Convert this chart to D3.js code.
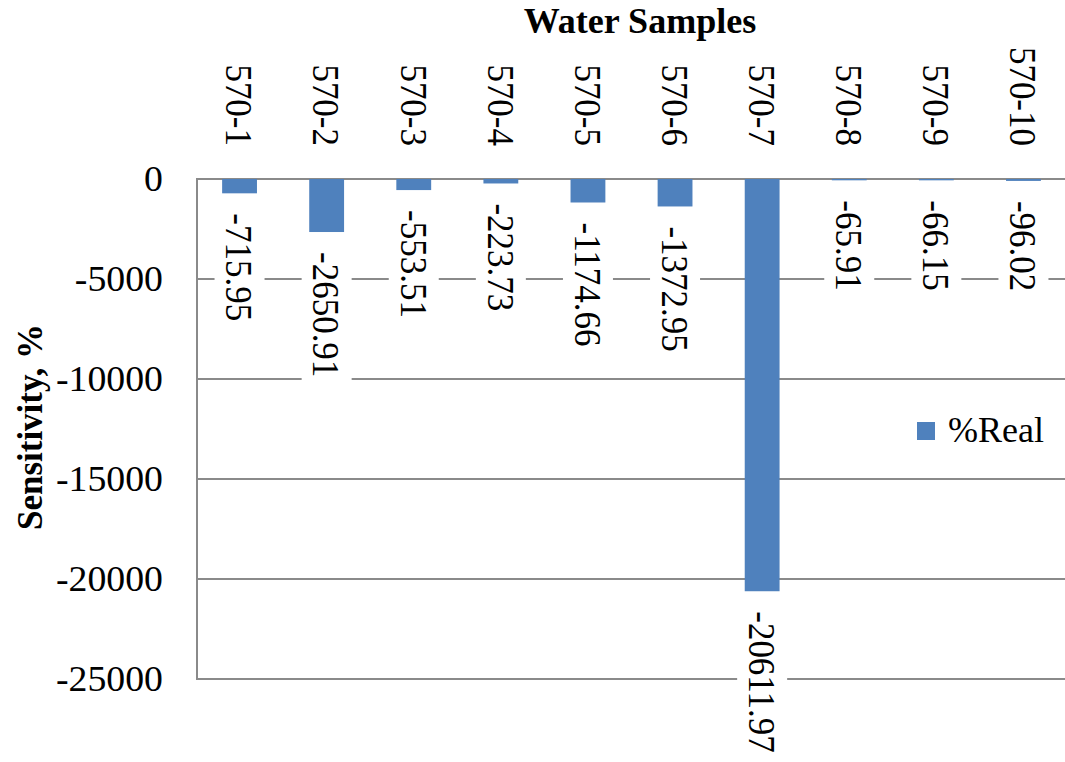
<!DOCTYPE html>
<html>
<head>
<meta charset="utf-8">
<script src="https://cdn.jsdelivr.net/npm/d3@7/dist/d3.min.js"></script>
<style>
  html, body { margin: 0; padding: 0; background: #ffffff; }
  svg { display: block; }
  text { font-family: "Liberation Serif", "Times New Roman", serif; fill: #000; }
</style>
</head>
<body>
<svg id="chart" width="1065" height="762"></svg>
<script>
// Sensitivity (%Real) per water sample
const categories = ["570-1", "570-2", "570-3", "570-4", "570-5", "570-6", "570-7", "570-8", "570-9", "570-10"];
const realValues = [-715.95, -2650.91, -553.51, -223.73, -1174.66, -1372.95, -20611.97, -65.91, -66.15, -96.02];
const yTicks = [0, -5000, -10000, -15000, -20000, -25000];
const seriesName = "%Real";
const xTitle = "Water Samples";
const yTitle = "Sensitivity, %";

const W = 1065, H = 762;
const plot = { left: 196, right: 1067, top: 179, bottom: 679 };
const barColor = "#4f81bd";
const gridColor = "#8a8a8a";
const fontSize = 35;
const stretch = 1.08;   // glyphs are drawn slightly wide

const svg = d3.select("#chart");

const x = d3.scaleBand()
  .domain(categories)
  .range([plot.left, plot.right])
  .paddingInner(0.6)
  .paddingOuter(0.3);

const y = d3.scaleLinear()
  .domain([0, -25000])
  .range([plot.top, plot.bottom]);

// horizontal gridlines (the zero line doubles as the category axis)
svg.append("g").selectAll("line")
  .data(yTicks)
  .join("line")
  .attr("x1", plot.left).attr("x2", W)
  .attr("y1", d => y(d)).attr("y2", d => y(d))
  .attr("stroke", gridColor)
  .attr("stroke-width", 2);

// value axis line
svg.append("line")
  .attr("x1", plot.left + 1).attr("x2", plot.left + 1)
  .attr("y1", plot.top).attr("y2", plot.bottom)
  .attr("stroke", gridColor)
  .attr("stroke-width", 2);

// value axis labels
const yAxis = d3.axisLeft(y)
  .tickValues(yTicks)
  .tickSize(0)
  .tickPadding(0)
  .tickFormat(d => String(d));
const yAxisG = svg.append("g")
  .attr("transform", `translate(${plot.left - 33},0)`)
  .call(yAxis);
yAxisG.select(".domain").remove();
yAxisG.selectAll("text")
  .attr("font-size", fontSize)
  .attr("font-family", "Liberation Serif, Times New Roman, serif")
  .attr("fill", "#000")
  .attr("dy", null)
  .attr("dominant-baseline", "central")
  .attr("x", 0)
  .attr("transform", d => `translate(0,${y(d)}) scale(${stretch},1) translate(0,${-y(d)})`);

// bars
const data = categories.map((c, i) => ({ cat: c, value: realValues[i] }));
svg.append("g").selectAll("rect")
  .data(data)
  .join("rect")
  .attr("x", d => x(d.cat))
  .attr("width", x.bandwidth())
  .attr("y", y(0))
  .attr("height", d => y(d.value) - y(0))
  .attr("fill", barColor);

// category labels, rotated, sitting above the zero line
svg.append("g").selectAll("text")
  .data(categories)
  .join("text")
  .attr("transform", d => `translate(${x(d) + x.bandwidth() / 2},${plot.top - 33}) scale(${stretch},1) rotate(90)`)
  .attr("text-anchor", "end")
  .attr("dy", "0.35em")
  .attr("font-size", fontSize)
  .text(d => d);

// data labels below each bar with a white backing box
const labelGap = 20;
const labelG = svg.append("g").selectAll("g")
  .data(data)
  .join("g")
  .attr("transform", d => `translate(${x(d.cat) + x.bandwidth() / 2},${y(d.value) + labelGap})`);

labelG.append("rect")
  .attr("class", "label-bg")
  .attr("fill", "#ffffff");

labelG.append("text")
  .attr("transform", `scale(${stretch},1) rotate(90)`)
  .attr("text-anchor", "start")
  .attr("dy", "0.35em")
  .attr("font-size", fontSize)
  .text(d => d.value.toFixed(2));

labelG.each(function () {
  const g = d3.select(this);
  const len = g.select("text").node().getComputedTextLength();
  g.select("rect")
    .attr("x", -25)
    .attr("width", 50)
    .attr("y", -6)
    .attr("height", len + 12);
});

// axis titles
svg.append("text")
  .attr("transform", `translate(640,33) scale(1.03,1)`)
  .attr("text-anchor", "middle")
  .attr("font-size", fontSize)
  .attr("font-weight", "bold")
  .text(xTitle);

svg.append("text")
  .attr("transform", `translate(42,427) scale(1.03,1) rotate(-90)`)
  .attr("text-anchor", "middle")
  .attr("font-size", fontSize)
  .attr("font-weight", "bold")
  .text(yTitle);

// legend
const legend = svg.append("g").attr("transform", "translate(917,422)");
legend.append("rect")
  .attr("width", 18).attr("height", 18)
  .attr("fill", barColor);
legend.append("text")
  .attr("transform", `translate(31,20) scale(1.03,1)`)
  .attr("font-size", fontSize)
  .text(seriesName);
</script>
</body>
</html>
